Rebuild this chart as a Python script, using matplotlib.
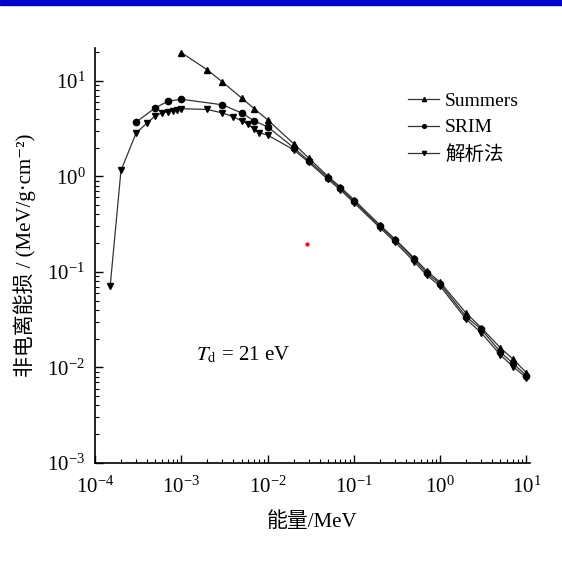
import matplotlib
matplotlib.use("Agg")
import matplotlib.pyplot as plt
from matplotlib.patches import Rectangle

plt.rcParams['font.family'] = ['Liberation Serif', 'Noto Sans CJK SC', 'DejaVu Serif']
plt.rcParams['mathtext.fontset'] = 'stix'

# Summers
E_sum = [1e-3, 2e-3, 3e-3, 5e-3, 7e-3, 1e-2, 2e-2, 3e-2, 5e-2, 7e-2, 0.1, 0.2, 0.3,
         0.5, 0.7, 1, 2, 3, 5, 7, 10]
V_sum = [19.7, 13, 9.7, 6.6, 5.1, 3.9, 2.2, 1.55, 1.0, 0.77, 0.57, 0.31, 0.22,
         0.14, 0.102, 0.078, 0.037, 0.026, 0.016, 0.0122, 0.0088]

# SRIM
E_srim = [3e-4, 5e-4, 7e-4, 1e-3, 3e-3, 5e-3, 7e-3, 1e-2, 2e-2, 3e-2, 5e-2, 7e-2, 0.1,
          0.2, 0.3, 0.5, 0.7, 1, 2, 3, 5, 7, 10]
V_srim = [3.7, 5.2, 6.1, 6.4, 5.6, 4.6, 3.8, 3.3, 2.0, 1.45, 0.97, 0.75, 0.55,
          0.30, 0.215, 0.135, 0.097, 0.075, 0.034, 0.025, 0.0145, 0.011, 0.0082]

# 解析法
E_ana = [1.5e-4, 2e-4, 3e-4, 4e-4, 5e-4, 6e-4, 7e-4, 8e-4, 9e-4, 1e-3, 2e-3, 3e-3, 4e-3,
         5e-3, 6e-3, 7e-3, 8e-3, 1e-2, 2e-2, 3e-2, 5e-2, 7e-2, 0.1, 0.2, 0.3, 0.5, 0.7,
         1, 2, 3, 5, 7, 10]
V_ana = [0.071, 1.15, 2.85, 3.6, 4.3, 4.6, 4.75, 4.85, 4.95, 5.1, 5.0, 4.6, 4.2,
         3.8, 3.5, 3.1, 2.85, 2.7, 1.9, 1.4, 0.93, 0.72, 0.53, 0.29, 0.205, 0.128, 0.092,
         0.071, 0.032, 0.023, 0.0135, 0.0102, 0.0078]

labels = ['Summers', 'SRIM', '解析法']
stray_x = [0.029]
stray_y = [0.196]

W, H = 562, 585
fig = plt.figure(figsize=(W / 100, H / 100), dpi=100)
fig.patches.append(Rectangle((0, 1 - 5 / H), 1, 5 / H, transform=fig.transFigure,
                             color='#0000CC', zorder=10))
ax = fig.add_axes([95 / W, 1 - 463 / H, (530 - 95) / W, (463 - 48) / H])

lc = '#333333'
ax.plot(E_sum, V_sum, color=lc, lw=0.9, marker='^', ms=5, mfc='black', mec='black', label=labels[0])
ax.plot(E_srim, V_srim, color=lc, lw=0.9, marker='o', ms=4.5, mfc='black', mec='black', label=labels[1])
ax.plot(E_ana, V_ana, color=lc, lw=0.9, marker='v', ms=5, mfc='black', mec='black', label=labels[2])
ax.plot(stray_x, stray_y, ls='none', marker='o', ms=2, color='red', mec='red')

ax.set_xscale('log')
ax.set_yscale('log')
ax.set_xlim(1e-4, 11)
ax.set_ylim(1e-3, 22)

for s in ['top', 'right']:
    ax.spines[s].set_visible(False)
for s in ['left', 'bottom']:
    ax.spines[s].set_linewidth(1.2)

ax.tick_params(which='both', direction='in', labelsize=15)
ax.tick_params(axis='x', which='major', pad=10)
ax.tick_params(axis='y', which='major', pad=7)
ax.tick_params(which='major', length=6, width=1)
ax.tick_params(which='minor', length=3, width=0.8)
ax.set_xticks([1e-4, 1e-3, 1e-2, 1e-1, 1, 10])
ax.set_yticks([1e-3, 1e-2, 1e-1, 1, 10])

ax.set_xlabel('能量/MeV', fontsize=15, labelpad=10)
ax.set_ylabel('非电离能损 / (MeV/g·cm⁻²)', fontsize=15, labelpad=8)

ax.text(1.5e-3, 0.0134, r'$T_{\rm d}$ = 21 eV', fontsize=15, ha='left', va='center')

leg = ax.legend(loc='upper left', bbox_to_anchor=(0.68, 0.935), frameon=False, fontsize=14,
                handlelength=1.6, handletextpad=0.3, labelspacing=0.45, markerscale=0.6)

fig.savefig('out.png', dpi=100)
